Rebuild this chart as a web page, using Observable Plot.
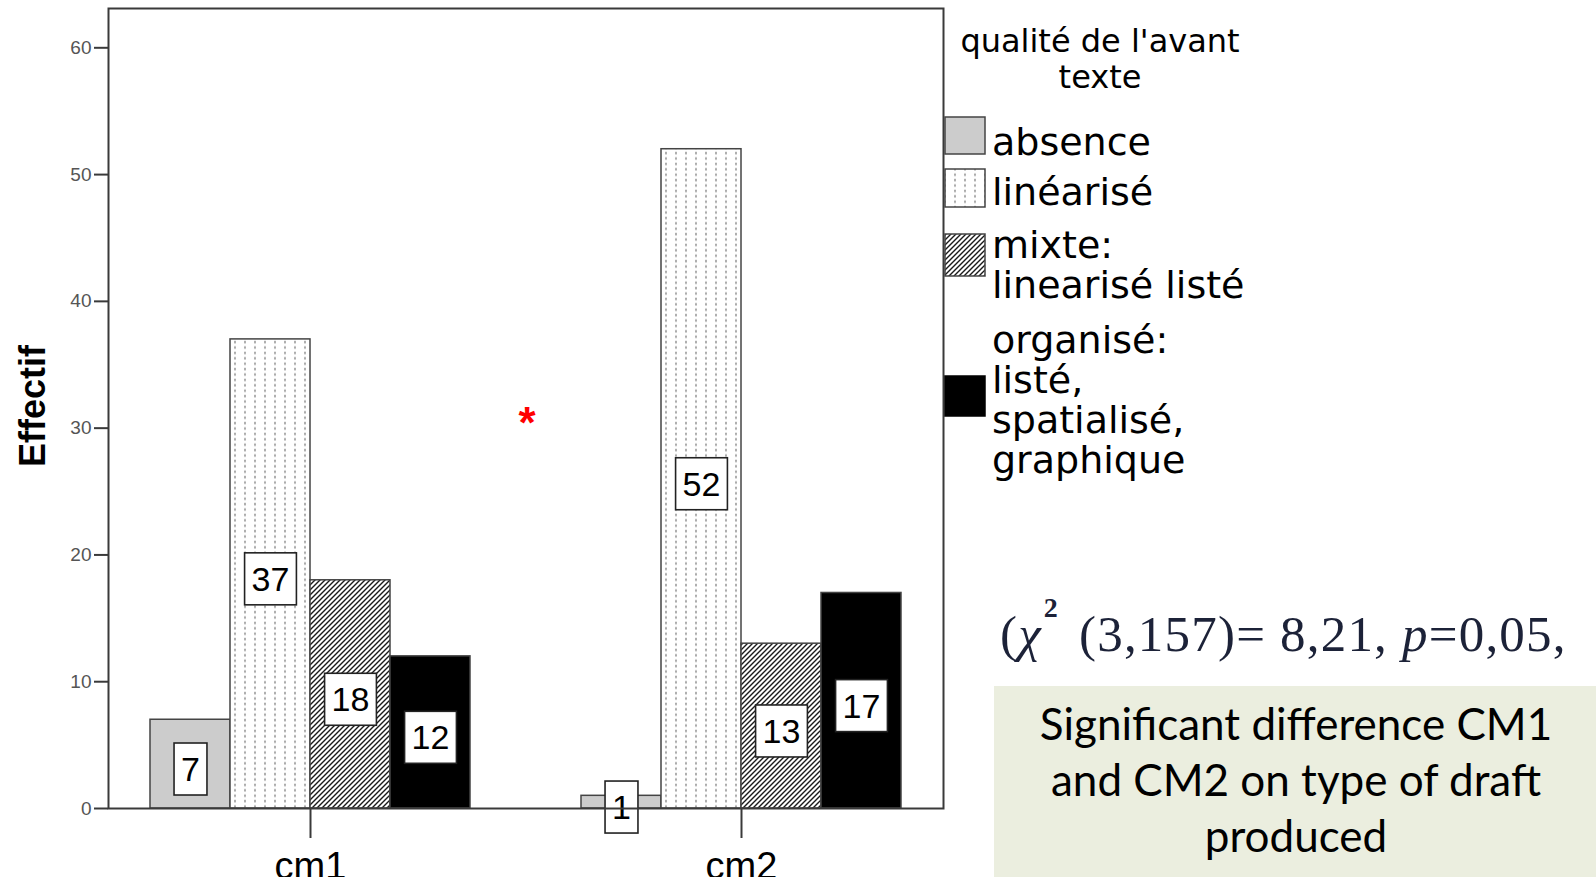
<!DOCTYPE html>
<html>
<head>
<meta charset="utf-8">
<script src="https://cdn.jsdelivr.net/npm/d3@7"></script>
<script src="https://cdn.jsdelivr.net/npm/@observablehq/plot@0.6"></script>
<style>
  html, body { margin: 0; padding: 0; background: #ffffff; }
  #wrap { position: relative; width: 1596px; height: 877px; overflow: hidden; background: #ffffff; }
  #chart { position: absolute; left: 0; top: 0; }
  #overlay { position: absolute; left: 0; top: 0; pointer-events: none; }
</style>
</head>
<body>
<div id="wrap">
  <svg width="0" height="0" style="position:absolute;left:0;top:0">
    <defs>
      <pattern id="pat-lin" patternUnits="userSpaceOnUse" width="10" height="5.4">
        <rect width="10" height="5.4" fill="#ffffff"></rect>
        <line x1="5" y1="0.6" x2="5" y2="3.2" stroke="#808080" stroke-width="1.3"></line>
      </pattern>
      <pattern id="pat-mix" patternUnits="userSpaceOnUse" width="5" height="5">
        <rect width="5" height="5" fill="#ffffff"></rect>
        <path d="M0,5L5,0M-1,1L1,-1M4,6L6,4" stroke="#1a1a1a" stroke-width="1.4"></path>
      </pattern>
    </defs>
  </svg>
  <div id="chart"></div>
  <svg id="overlay" width="1596" height="877"></svg>
</div>
<script>
// ---------------- data ----------------
const groups = ["cm1", "cm2"];
const series = ["absence", "linéarisé", "mixte: linearisé listé", "organisé: listé, spatialisé, graphique"];
const cm1Values = [7, 37, 18, 12];
const cm2Values = [1, 52, 13, 17];
const yTicks = [0, 10, 20, 30, 40, 50, 60];
const yLabel = "Effectif";
const legendTitleLines = ["qualité de l'avant", "texte"];
const legendLabelLines = [["absence"], ["linéarisé"], ["mixte:", "linearisé listé"], ["organisé:", "listé,", "spatialisé,", "graphique"]];
const noteLines = ["Significant difference CM1", "and CM2 on type of draft", "produced"];

// ---------------- styles ----------------
const seriesFills = ["#cccccc", "url(#pat-lin)", "url(#pat-mix)", "#000000"];
const SANS = "'Liberation Sans', Arial, Helvetica, sans-serif";
const LEGEND_FONT = "'DejaVu Sans', Verdana, sans-serif";

const valuesByGroup = [cm1Values, cm2Values];
const table = groups.flatMap((g, i) => series.map((s, j) => ({group: g, series: s, value: valuesByGroup[i][j]})));

const plot = Plot.plot({
  width: 960,
  height: 877,
  marginLeft: 108,
  marginRight: 17,
  marginTop: 8,
  marginBottom: 69,
  facetMarginTop: 0,
  facetMarginBottom: 0,
  facetMarginLeft: 0,
  facetMarginRight: 0,
  style: {background: "transparent", fontFamily: SANS, color: "#000"},
  fx: {domain: groups, paddingInner: 0.063, paddingOuter: 0, label: null},
  x: {domain: series, paddingInner: 0, paddingOuter: 0.517, axis: null},
  y: {domain: [0, 63.1], nice: false, label: null},
  color: {domain: series, range: seriesFills},
  marks: [
    Plot.barY(table, {fx: "group", x: "series", y: "value", fill: "series", stroke: "#444", strokeWidth: 1.5}),
    Plot.text(table, {
      fx: "group", x: "series", y: d => d.value / 2, text: d => String(d.value),
      dy: 6, fontSize: 34, fill: "#000", fontFamily: SANS
    }),
    Plot.frame({facet: "super", stroke: "#3a3a3a", strokeWidth: 2}),
    Plot.axisY({ticks: yTicks, tickSize: 14, tickPadding: 3, fontSize: 19, fill: "#555", stroke: "#3a3a3a", strokeWidth: 2, label: null}),
    Plot.axisFx({anchor: "bottom", tickSize: 30, tickPadding: 14, fontSize: 38, fill: "#000", stroke: "#3a3a3a", strokeWidth: 2, label: null})
  ]
});
document.getElementById("chart").appendChild(plot);

// white boxes behind value labels, sized from each label's own box
d3.select(plot).selectAll('g[aria-label="text"] text').each(function () {
  const bb = this.getBBox();
  const padX = 7, padY = 8;
  const r = document.createElementNS("http://www.w3.org/2000/svg", "rect");
  r.setAttribute("x", bb.x - padX);
  r.setAttribute("y", bb.y - padY + 1);
  r.setAttribute("width", bb.width + 2 * padX);
  r.setAttribute("height", bb.height + 2 * padY - 2);
  r.setAttribute("fill", "#ffffff");
  r.setAttribute("stroke", "#222");
  r.setAttribute("stroke-width", "1.6");
  const t = this.getAttribute("transform");
  if (t) r.setAttribute("transform", t);
  this.parentNode.insertBefore(r, this);
});

// ---------------- overlay: axis title, legend, annotations ----------------
const ov = d3.select("#overlay");

// y axis title
ov.append("text")
  .attr("transform", "translate(45,406) rotate(-90)")
  .attr("text-anchor", "middle")
  .attr("font-family", SANS)
  .attr("font-weight", "bold")
  .attr("font-size", 36)
  .attr("fill", "#000")
  .text(yLabel);

// red asterisk
ov.append("text")
  .attr("x", 527).attr("y", 438)
  .attr("text-anchor", "middle")
  .attr("font-family", SANS)
  .attr("font-weight", "bold")
  .attr("font-size", 44)
  .attr("fill", "#ff0000")
  .text("*");

// legend
const lg = ov.append("g").attr("font-family", LEGEND_FONT).attr("fill", "#000");
legendTitleLines.forEach((line, i) => {
  lg.append("text").attr("x", 1100).attr("y", 52 + i * 36)
    .attr("text-anchor", "middle").attr("font-size", 32).text(line);
});
const legendLayout = [
  {swTop: 117, swH: 37, base: 155},
  {swTop: 169, swH: 38, base: 205},
  {swTop: 234, swH: 42, base: 258},
  {swTop: 376, swH: 40, base: 353}
];
series.forEach((s, i) => {
  const L = legendLayout[i];
  lg.append("rect")
    .attr("x", 945).attr("y", L.swTop).attr("width", 40).attr("height", L.swH)
    .attr("fill", seriesFills[i])
    .attr("stroke", i === 3 ? "#000" : "#444").attr("stroke-width", 1.5);
  legendLabelLines[i].forEach((line, k) => {
    lg.append("text").attr("x", 992).attr("y", L.base + k * 40)
      .attr("font-size", 38).text(line);
  });
});

// chi-square statistic
const st = ov.append("text")
  .attr("x", 1000).attr("y", 651)
  .attr("font-family", "'Liberation Serif', 'Times New Roman', serif")
  .attr("font-size", 51)
  .attr("letter-spacing", 1.2)
  .attr("fill", "#1c2238");
st.append("tspan").text("(");
st.append("tspan").attr("font-style", "italic").text("χ");
st.append("tspan").attr("font-size", 28).attr("font-weight", "bold").attr("dx", 2).attr("dy", -34).text("2");
st.append("tspan").attr("dx", 20).attr("dy", 34).text("(3,157)= 8,21, ");
st.append("tspan").attr("font-style", "italic").text("p");
st.append("tspan").text("=0,05,");

// note box
ov.append("rect").attr("x", 994).attr("y", 686).attr("width", 602).attr("height", 191).attr("fill", "#ebeedf");
noteLines.forEach((line, i) => {
  ov.append("text").attr("x", 1296).attr("y", 740 + i * 56)
    .attr("text-anchor", "middle")
    .attr("font-family", "Lato, 'Open Sans', sans-serif")
    .attr("font-size", 44)
    .attr("fill", "#000")
    .text(line);
});
</script>
</body>
</html>
